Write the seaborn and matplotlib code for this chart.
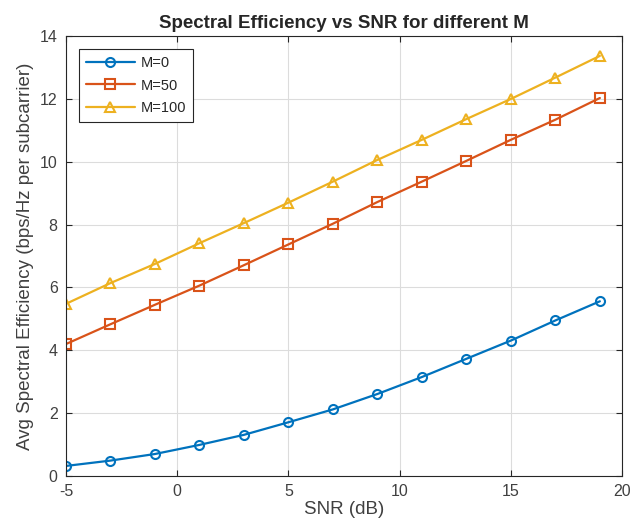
import numpy as np
import pandas as pd
import seaborn as sns
import matplotlib
matplotlib.use("Agg")
import matplotlib.pyplot as plt

# 数据
snr_db = [-5, -3, -1, 1, 3, 5, 7, 9, 11, 13, 15, 17, 19]
se_m0 = [0.32, 0.49, 0.70, 0.99, 1.31, 1.71, 2.12, 2.61, 3.15, 3.73, 4.31, 4.95, 5.56]
se_m50 = [4.20, 4.83, 5.45, 6.06, 6.71, 7.37, 8.03, 8.72, 9.37, 10.03, 10.70, 11.34, 12.03]
se_m100 = [5.48, 6.14, 6.75, 7.41, 8.05, 8.70, 9.37, 10.06, 10.70, 11.36, 12.00, 12.68, 13.37]
labels = ["M=0", "M=50", "M=100"]

sns.set_style("whitegrid")
plt.rcParams['font.family'] = ['Liberation Sans', 'DejaVu Sans']
plt.rcParams['axes.unicode_minus'] = False

df = pd.DataFrame({
    "snr": snr_db * 3,
    "se": se_m0 + se_m50 + se_m100,
    "M": [labels[0]] * len(snr_db) + [labels[1]] * len(snr_db) + [labels[2]] * len(snr_db),
})

colors = ["#0072BD", "#D95319", "#EDB120"]
markers = ["o", "s", "^"]

fig = plt.figure(figsize=(6.44, 5.31), dpi=100)
ax = fig.add_axes([0.1025, 0.1036, 0.8635, 0.8284])

sns.lineplot(data=df, x="snr", y="se", hue="M", style="M", palette=colors,
             markers=markers, dashes=False, linewidth=1.6, markersize=6.5,
             markerfacecolor="none", markeredgewidth=1.5, ax=ax)

for line, c in zip(ax.get_lines(), colors):
    line.set_markeredgecolor(c)

ax.set_xlim(-5, 20)
ax.set_ylim(0, 14)
ax.set_xticks(range(-5, 21, 5))
ax.set_yticks(range(0, 15, 2))
ax.grid(True, color="#dcdcdc", linewidth=0.8)
for s in ax.spines.values():
    s.set_visible(True)
    s.set_color("#262626")
    s.set_linewidth(0.8)
ax.tick_params(direction="in", length=4, color="#262626", labelsize=11.5, pad=6,
               labelcolor="#404040", top=True, right=True, bottom=True, left=True)

ax.set_title("Spectral Efficiency vs SNR for different M", fontsize=13.5, fontweight="bold", pad=6)
ax.set_xlabel("SNR (dB)", fontsize=13.5, color="#404040", labelpad=1)
ax.set_ylabel("Avg Spectral Efficiency (bps/Hz per subcarrier)", fontsize=13.5, color="#404040", labelpad=4)

leg = ax.legend(loc="upper left", fontsize=10.5, frameon=True, fancybox=False,
                edgecolor="#262626", framealpha=1, handlelength=3.4, handletextpad=0.4,
                borderaxespad=0.9, labelspacing=0.6, borderpad=0.45)
leg.get_frame().set_linewidth(0.8)
for h, c in zip(leg.get_lines(), colors):
    h.set_markerfacecolor("none")
    h.set_markeredgecolor(c)

fig.savefig("out.png", dpi=100)
